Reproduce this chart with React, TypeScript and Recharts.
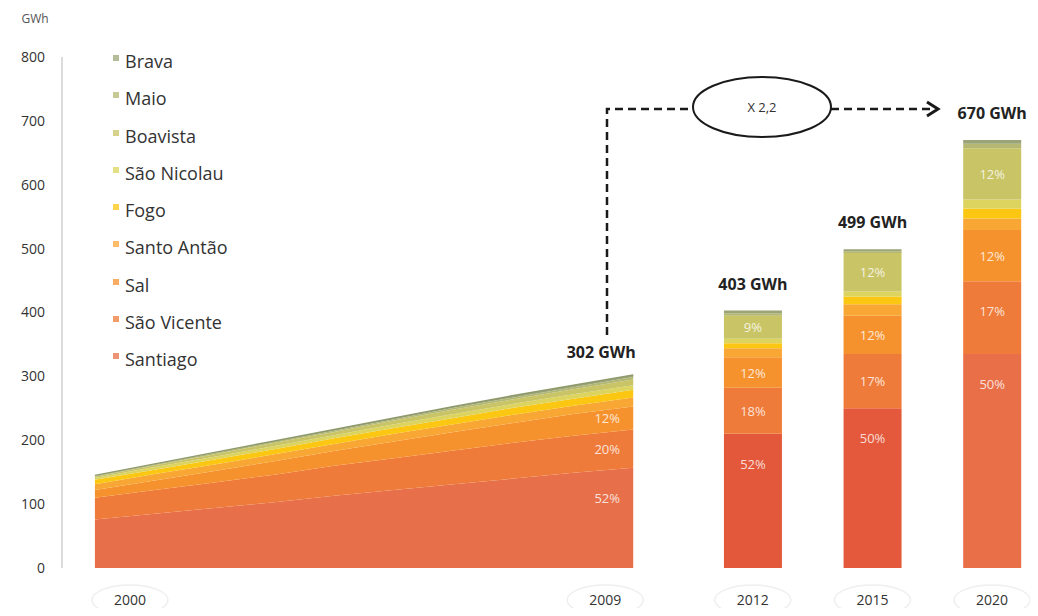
import React from 'react'
import { ComposedChart, Area, Bar, XAxis, YAxis, Legend, LabelList, Cell } from 'recharts'

// Procura de electricidade por ilha (GWh): 2000-2009 real, 2012/2015/2020 projecção
const years = ['2000', '2001', '2002', '2003', '2004', '2005', '2006', '2007', '2008', '2009', '2012', '2015', '2020']
const HISTORY = 10

const santiago = [76, 85, 94, 103, 113, 122, 131, 140, 149, 157, 210, 250, 335]
const saoVicente = [34, 37, 40, 43, 47, 50, 53, 56, 58, 60, 72, 85, 114]
const sal = [12, 15, 18, 21, 23, 26, 29, 31, 34, 36, 48, 60, 80]
const santoAntao = [9, 10, 10, 11, 11, 12, 12, 13, 13, 14, 14, 18, 18]
const fogo = [7, 7, 8, 8, 9, 9, 10, 11, 11, 12, 8, 12, 16]
const saoNicolau = [3, 4, 4, 5, 5, 6, 6, 6, 7, 7, 7, 8, 14]
const boavista = [2, 3, 4, 5, 5, 6, 7, 7, 8, 9, 36, 60, 80]
const maio = [1, 1, 2, 2, 2, 2, 3, 3, 3, 4, 4, 3, 7]
const brava = [1, 1, 1, 1, 2, 2, 2, 3, 3, 3, 4, 3, 6]

const islands = ['Santiago', 'São Vicente', 'Sal', 'Santo Antão', 'Fogo', 'São Nicolau', 'Boavista', 'Maio', 'Brava']
const islandValues = [santiago, saoVicente, sal, santoAntao, fogo, saoNicolau, boavista, maio, brava]
const islandColors = ['#e7704a', '#ef7b3a', '#f6922e', '#f9a734', '#fbc712', '#dcd45e', '#c9c466', '#b4b872', '#9ba476']
const shareIslands = ['Santiago', 'São Vicente', 'Sal', 'Boavista']
const santiagoBarColors = ['#e3573a', '#e4593b', '#e96f48']

const shownYears = ['2000', '2009', '2012', '2015', '2020']
const yTicks = [0, 100, 200, 300, 400, 500, 600, 700, 800]

const W = 1030
const H = 600
const PLOT_TOP = 49
const PLOT_H = 511
const FONT = '"Open Sans", sans-serif'

type Row = Record<string, string | number | undefined>

// one band per year; an empty band goes before each projected year
const rows: Row[] = []
years.forEach((year, i) => {
  const hist = i < HISTORY
  const p = hist ? 'h' : 'f'
  if (!hist) rows.push({ year: '' })
  const total = islandValues.reduce((s, v) => s + v[i], 0)
  const row: Row = { year }
  islandValues.forEach((vals, k) => {
    row[p + k] = vals[i]
    if ((!hist || i === HISTORY - 1) && shareIslands.includes(islands[k])) {
      row[p + k + 'pct'] = Math.round((vals[i] / total) * 100) + '%'
    }
  })
  if (!hist || i === HISTORY - 1) row[p + 'total'] = `${total} GWh`
  rows.push(row)
})

const YearTick = (props: any) => {
  const { x, y, payload } = props
  const v = payload.value
  if (!shownYears.includes(v)) return null
  let cx = x
  if (v === years[0]) cx = x + 35
  if (v === years[HISTORY - 1]) cx = x - 28
  return (
    <g>
      <ellipse cx={cx} cy={y + 30} rx={38} ry={15} fill="none" stroke="#efefef" strokeWidth={1.5} />
      <text x={cx} y={y + 35} textAnchor="middle" fontSize={14} fill="#333" fontFamily={FONT}>{v}</text>
    </g>
  )
}

const BarShare = (props: any) => {
  const { x, y, width, height, value } = props
  if (!value || height < 14) return null
  return (
    <text x={x + width / 2} y={y + Math.min(height / 2, 30) + 5} textAnchor="middle" fontSize={13}
      fill="#fff" fillOpacity={0.8} fontFamily={FONT}>{value}</text>
  )
}

const areaShare = (k: number) => (props: any) => {
  const { x, y, value, index } = props
  if (!value) return null
  const seg = (Number(rows[index]?.['h' + k]) * PLOT_H) / 800
  if (seg < 14) return null
  return (
    <text x={x - 26} y={y + Math.min(seg / 2, 30) + 5} textAnchor="middle" fontSize={13}
      fill="#fff" fillOpacity={0.8} fontFamily={FONT}>{value}</text>
  )
}

const TotalLabel = (props: any) => {
  const { x, y, width, value } = props
  if (!value) return null
  const cx = width ? x + width / 2 : x - 32
  const by = width ? y - 21 : y - 17
  return (
    <text x={cx} y={by} textAnchor="middle" fontSize={16} fontWeight={700} fill="#222" fontFamily={FONT}>{value}</text>
  )
}

const IslandKey = () => (
  <div style={{ fontFamily: FONT }}>
    {islands.slice().reverse().map((name) => {
      const c = islandColors[islands.indexOf(name)]
      return (
        <div key={name} style={{ position: 'relative', height: 37.3, lineHeight: '20px', fontSize: 18, color: '#333' }}>
          <span style={{ position: 'absolute', left: 0, top: 4, width: 6, height: 6, background: c, opacity: 0.75 }} />
          <span style={{ position: 'absolute', left: 12, top: 0 }}>{name}</span>
        </div>
      )
    })}
  </div>
)

export default function App() {
  return (
    <div style={{ width: W, height: H, fontFamily: FONT }}>
      <ComposedChart width={W} height={H} data={rows} margin={{ top: PLOT_TOP, right: 16, bottom: 0, left: 0 }}>
        <XAxis dataKey="year" interval={0} height={40} axisLine={false} tickLine={false} tickSize={0}
          padding={{ left: 3, right: 0 }} tick={<YearTick />} />
        <YAxis domain={[0, 800]} ticks={yTicks} width={54} axisLine={{ stroke: '#b8b8b8' }} tickLine={false}
          tickSize={0} tickMargin={17} tick={{ fontSize: 14, fill: '#333', fontFamily: FONT }} />

        {islands.map((name, k) => (
          <Area key={'h' + k} dataKey={'h' + k} name={name} stackId="hist" type="linear"
            fill={islandColors[k]} fillOpacity={1}
            stroke={k === islands.length - 1 ? '#8f9a6c' : 'none'} strokeWidth={1.5}
            dot={false} activeDot={false} isAnimationActive={false}>
            {shareIslands.includes(name) && <LabelList dataKey={'h' + k + 'pct'} content={areaShare(k)} />}
            {k === islands.length - 1 && <LabelList dataKey="htotal" content={TotalLabel} />}
          </Area>
        ))}

        {islands.map((name, k) => (
          <Bar key={'f' + k} dataKey={'f' + k} name={name} stackId="proj" barSize={58}
            fill={islandColors[k]} isAnimationActive={false}>
            {k === 0 &&
              rows.map((r, i) => {
                const j = years.indexOf(String(r.year)) - HISTORY
                return <Cell key={i} fill={j >= 0 ? santiagoBarColors[j] : islandColors[0]} />
              })}
            {shareIslands.includes(name) && <LabelList dataKey={'f' + k + 'pct'} content={BarShare} />}
            {k === islands.length - 1 && <LabelList dataKey="ftotal" content={TotalLabel} />}
          </Bar>
        ))}

        <Legend layout="vertical" align="center" verticalAlign="middle" content={<IslandKey />}
          wrapperStyle={{ left: 105, top: 43, width: 200 }} />

        <text x={27} y={15} textAnchor="middle" fontSize={12} fill="#555" fontFamily={FONT}>GWh</text>

        {/* crescimento 2009 -> 2020 */}
        <g fill="none" stroke="#1a1a1a">
          <path d="M599 327 V101 H685" strokeWidth={2.5} strokeDasharray="8 5" />
          <ellipse cx={754} cy={99} rx={69} ry={30} strokeWidth={2} />
          <path d="M823 101 H926" strokeWidth={2.5} strokeDasharray="8 5" />
          <path d="M919 94 L930 101 L919 108" strokeWidth={3} />
        </g>
        <text x={754} y={104} textAnchor="middle" fontSize={13} fill="#333" fontFamily={FONT}>X 2,2</text>
      </ComposedChart>
    </div>
  )
}
